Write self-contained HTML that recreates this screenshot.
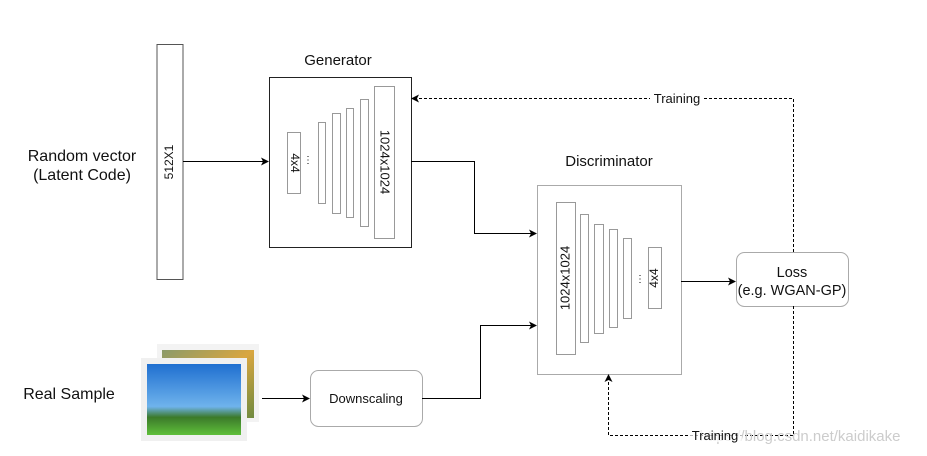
<!DOCTYPE html>
<html><head><meta charset="utf-8"><style>
html,body{margin:0;padding:0;background:#fff;}
svg{display:block;font-family:"Liberation Sans",sans-serif;}
</style></head><body>
<svg width="927" height="456" viewBox="0 0 927 456" xmlns="http://www.w3.org/2000/svg">
<defs>
<marker id="a" markerWidth="8" markerHeight="8" refX="7" refY="4" orient="auto" markerUnits="userSpaceOnUse"><path d="M0,0 L8,4 L0,8 L2,4 Z" fill="#000"/></marker>
<linearGradient id="sky" x1="0" y1="0" x2="0" y2="1"><stop offset="0" stop-color="#1f6fd0"/><stop offset="0.6" stop-color="#6fb3ec"/><stop offset="0.75" stop-color="#3c7a2a"/><stop offset="1" stop-color="#5fbf3a"/></linearGradient>
<linearGradient id="fld" x1="0" y1="0" x2="1" y2="1"><stop offset="0" stop-color="#8a9a6a"/><stop offset="0.5" stop-color="#d9a640"/><stop offset="1" stop-color="#6f8a40"/></linearGradient>
</defs>
<g fill="none" stroke="#000" stroke-width="1">
<rect x="157" y="44.5" width="26" height="235" stroke="#555"/>
<rect x="269.5" y="77.5" width="142" height="170" stroke="#222"/>
<g stroke="#999">
<rect x="287.5" y="132.5" width="13" height="61"/>
<rect x="318.5" y="122.5" width="7" height="81"/>
<rect x="332.5" y="113.5" width="8" height="100"/>
<rect x="346.5" y="108.5" width="7" height="109"/>
<rect x="360.5" y="99.5" width="8" height="127"/>
<rect x="374.5" y="86.5" width="20" height="152"/>
</g>
<rect x="537.5" y="185.5" width="144" height="189" stroke="#aaa"/>
<g stroke="#999">
<rect x="556.5" y="202.5" width="19" height="152"/>
<rect x="580.5" y="214.5" width="8" height="128"/>
<rect x="594.5" y="224.5" width="9" height="109"/>
<rect x="609.5" y="229.5" width="8" height="98"/>
<rect x="623.5" y="238.5" width="8" height="80"/>
<rect x="648.5" y="247.5" width="13" height="61"/>
</g>
<rect x="736.5" y="252.5" width="112" height="54" rx="8" stroke="#aaa"/>
<rect x="310.5" y="370.5" width="112" height="56" rx="8" stroke="#aaa"/>
<path d="M183,161.5 H268" marker-end="url(#a)"/>
<path d="M411,161.5 H474.5 V233.5 H536" marker-end="url(#a)"/>
<path d="M422,398.5 H480.5 V325.5 H536" marker-end="url(#a)"/>
<path d="M262,398.5 H309" marker-end="url(#a)"/>
<path d="M681,281.5 H735" marker-end="url(#a)"/>
<path d="M793.5,252 V98.5 H412" stroke-dasharray="3,2" marker-end="url(#a)"/>
<path d="M793.5,306 V435.5 H608.5 V375" stroke-dasharray="3,2" marker-end="url(#a)"/>
</g>
<rect x="157" y="344" width="102" height="78" fill="#f3f3f3"/>
<rect x="162" y="350" width="92" height="68" fill="url(#fld)"/>
<rect x="141" y="358" width="106" height="83" fill="#f0f0f0"/>
<rect x="147" y="364" width="94" height="71" fill="url(#sky)"/>
<g font-size="16" fill="#111" text-anchor="middle">
<text x="82" y="161">Random vector</text>
<text x="82" y="180">(Latent Code)</text>
<text x="338" y="65" font-size="15">Generator</text>
<text x="609" y="166" font-size="15">Discriminator</text>
<text x="69" y="399">Real Sample</text>
</g>
<g font-size="13" fill="#111" text-anchor="middle">
<text x="366" y="403">Downscaling</text>
<text x="792" y="277" font-size="14.5">Loss</text>
<text x="792" y="295" font-size="14.5">(e.g. WGAN-GP)</text>
<text x="170" y="162" transform="rotate(-90 170 162)" dominant-baseline="middle" font-size="12">512X1</text>
<text x="294" y="163" transform="rotate(90 294 163)" dominant-baseline="middle" font-size="12">4x4</text>
<text x="384" y="162" transform="rotate(90 384 162)" dominant-baseline="middle" font-size="13">1024x1024</text>
<text x="566" y="278" transform="rotate(-90 566 278)" dominant-baseline="middle" font-size="13">1024x1024</text>
<text x="655" y="278" transform="rotate(-90 655 278)" dominant-baseline="middle" font-size="12">4x4</text>
<text x="308" y="163" font-size="10">⋮</text>
<text x="640" y="282" font-size="10">⋮</text>
</g>
<rect x="650" y="92" width="54" height="14" fill="#fff"/>
<text x="677" y="103" font-size="13" text-anchor="middle" fill="#111">Training</text>
<text x="800" y="441" font-size="15" text-anchor="middle" fill="#ccc">https://blog.csdn.net/kaidikake</text>
<rect x="688" y="428" width="54" height="14" fill="#fff" fill-opacity="0.7"/>
<text x="715" y="440" font-size="13" text-anchor="middle" fill="#111">Training</text>
</svg>
</body></html>
